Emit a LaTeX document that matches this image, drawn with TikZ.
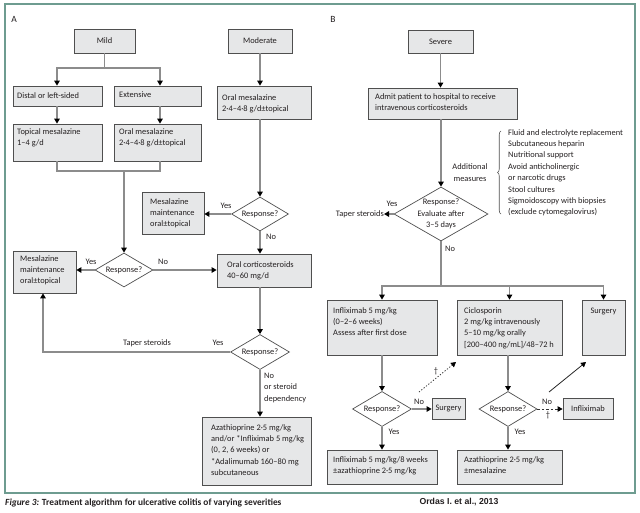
\documentclass[tikz,border=0pt]{standalone}
\usepackage{fontspec}
\setmainfont{Carlito}
\newfontfamily\arialfont{Liberation Sans}
\usetikzlibrary{arrows.meta,shapes.geometric,decorations.pathreplacing,calc}
\definecolor{boxfill}{HTML}{E6E7E8}
\definecolor{boxline}{HTML}{4F4F4F}
\definecolor{lncol}{HTML}{8C8C8C}
\definecolor{framecol}{HTML}{6E9C90}
\definecolor{txtcol}{HTML}{231F20}
\newcommand\fs{\fontsize{8.4}{11.4}\selectfont}
\newcommand\mybox[6]{\pgfmathsetmacro\bw{#4-#2}\pgfmathsetmacro\bh{#5-#3}%
  \pgfmathsetmacro\bcx{(#2+#4)/2}\pgfmathsetmacro\bcy{(#3+#5)/2}%
  \node[box, minimum width=\bw pt, minimum height=\bh pt] (#1) at (\bcx,\bcy) {#6};}
\tikzset{
  box/.style={draw=boxline, fill=boxfill, line width=0.8pt, inner sep=0pt, font=\fs, text=txtcol},
  txt/.style={inner sep=0pt, font=\fs, align=left, text=txtcol, anchor=north west},
  lbl/.style={inner sep=0pt, font=\fs, text=txtcol},
  dia/.style={diamond, draw=boxline, fill=white, line width=0.7pt, inner sep=0pt, shape aspect=1.7, font=\fs, text=txtcol},
  ln/.style={draw=lncol, line width=1.3pt},
  arr/.style={ln, -{Triangle[length=5pt,width=5.5pt,color=black]}},
}
\begin{document}
\begin{tikzpicture}[x=1pt,y=-1pt]
\useasboundingbox (0,0) rectangle (640,512);
\draw[framecol, line width=1.2pt] (5,4) rectangle (635,493);
\node[lbl, font=\fontsize{9.5}{10}\selectfont] (lA) at (14,19) {A};
\node[lbl, font=\fontsize{9.5}{10}\selectfont] (lB) at (333,19) {B};

% ---------- Panel A boxes
\mybox{mild}{74}{29}{135}{53}{Mild}
\mybox{moder}{228}{29}{292}{53}{Moderate}
\mybox{distal}{13}{86}{102}{106}{}
\mybox{ext}{114}{86}{201}{106}{}
\mybox{topical}{13}{124}{102}{161}{}
\mybox{oralA}{114}{124}{201}{161}{}
\mybox{oralM}{217}{86}{311}{119}{}
\mybox{mmM}{142}{192}{204}{234}{}
\mybox{mmL}{13}{251}{76}{293}{}
\mybox{cort}{217}{254}{311}{287}{}
\mybox{aza}{202}{417}{311}{485}{}

\node[txt] (distalt) at (17,92) {Distal or left-sided};
\node[txt] (extt) at (119,92) {Extensive};
\node[txt] (topicalt) at (17,128) {Topical mesalazine\\1–4 g/d};
\node[txt] (oralAt) at (119,128) {Oral mesalazine\\2·4–4·8 g/d±topical};
\node[txt] (oralMt) at (222,94) {Oral mesalazine\\2·4–4·8 g/d±topical};
\node[txt] (mmMt) at (150,198) {Mesalazine\\maintenance\\oral±topical};
\node[txt] (mmLt) at (20,255) {Mesalazine\\maintenance\\oral±topical};
\node[txt] (cortt) at (227,261) {Oral corticosteroids\\40–60 mg/d};
\node[txt] (azat) at (211,424) {Azathioprine 2·5 mg/kg\\and/or *Infliximab 5 mg/kg\\(0, 2, 6 weeks) or\\*Adalimumab 160–80 mg\\subcutaneous};

\node[dia, minimum width=58pt, minimum height=34pt] (dA1) at (124,270) {Response?};
\node[dia, minimum width=57pt, minimum height=34pt] (dA2) at (260,214) {Response?};
\node[dia, minimum width=59pt, minimum height=35pt] (dA3) at (260,352) {Response?};

\coordinate (cA1) at (57,0);
\coordinate (cA2) at (160,0);
\coordinate (cL) at (43,0);
\coordinate (j1) at (104.5,68);
\coordinate (j2) at (124,171);
\draw[ln] (mild.south) -- (j1);
\draw[arr] (j1) -| (cA1 |- distal.north);
\draw[arr] (j1) -| (cA2 |- ext.north);
\draw[arr] (cA1 |- distal.south) -- (cA1 |- topical.north);
\draw[arr] (cA2 |- ext.south) -- (cA2 |- oralA.north);
\draw[ln] (cA1 |- topical.south) |- (j2) -| (cA2 |- oralA.south);
\draw[arr] (j2) -- (dA1.north);
\draw[arr] (dA1.west) -- (dA1.west -| mmL.east);
\draw[arr] (dA1.east) -- (dA1.east -| cort.west);
\draw[arr] (moder.south) -- (moder.south |- oralM.north);
\draw[arr] (dA2.north |- oralM.south) -- (dA2.north);
\draw[arr] (dA2.west) -- (dA2.west -| mmM.east);
\draw[arr] (dA2.south) -- (dA2.south |- cort.north);
\draw[arr] (dA3.north |- cort.south) -- (dA3.north);
\draw[arr] (dA3.west) -| (cL |- mmL.south);
\draw[arr] (dA3.south) -- (dA3.south |- aza.north);

\node[lbl] (yA1) at (91,262) {Yes};
\node[lbl] (nA1) at (163,262) {No};
\node[lbl] (yA2) at (226,206) {Yes};
\node[lbl] (nA2) at (271,237) {No};
\node[lbl] (taperA) at (147,343) {Taper steroids};
\node[lbl] (yA3) at (218,343) {Yes};
\node[txt] (nA3) at (264,373) {No\\or steroid\\dependency};

% ---------- Panel B boxes
\mybox{severe}{408}{30}{473}{53}{Severe}
\mybox{admit}{368}{88}{517}{119}{}
\mybox{infl}{327}{300}{437}{355}{}
\mybox{cic}{457}{300}{562}{355}{}
\mybox{surgR}{582}{300}{625}{355}{}
\mybox{surgS}{432}{398}{465}{419}{Surgery}
\mybox{inflS}{563}{398}{613}{419}{Infliximab}
\mybox{inflM}{327}{450}{437}{484}{}
\mybox{azaB}{457}{450}{562}{484}{}

\node[txt] (admitt) at (375,93) {Admit patient to hospital to receive\\intravenous corticosteroids};
\node[txt] (inflt) at (333,307) {Infliximab 5 mg/kg\\(0–2–6 weeks)\\Assess after first dose};
\node[txt] (cict) at (464,307) {Ciclosporin\\2 mg/kg intravenously\\5–10 mg/kg orally\\{[}200–400 ng/mL{]}/48–72 h};
\node[txt, anchor=north] (surgRt) at (603.5,308) {Surgery};
\node[txt] (inflMt) at (333,456) {Infliximab 5 mg/kg/8 weeks\\±azathioprine 2·5 mg/kg};
\node[txt] (azaBt) at (464,456) {Azathioprine 2·5 mg/kg\\±mesalazine};

\node[txt] (meas) at (508,129) {Fluid and electrolyte replacement\\Subcutaneous heparin\\Nutritional support\\Avoid anticholinergic\\or narcotic drugs\\Stool cultures\\Sigmoidoscopy with biopsies\\(exclude cytomegalovirus)};
\draw[boxline, line width=0.6pt, decorate, decoration={brace, amplitude=3.5pt}] (501,214) -- (501,131);
\node[lbl, align=center] (addl) at (470,172.5) {Additional\\measures};

\node[dia, minimum width=94pt, minimum height=54pt] (dB) at (441,214) {};
\node[lbl, align=center] (dBt) at (441,214) {Response?\\Evaluate after\\3–5 days};
\node[lbl, anchor=east] (taperB) at (384,214) {Taper steroids};

\node[dia, minimum width=59pt, minimum height=35pt] (dB1) at (382,409) {Response?};
\node[dia, minimum width=58pt, minimum height=35pt] (dB2) at (508,409) {Response?};

\coordinate (j3) at (441,286);
\draw[arr] (severe.south) -- (severe.south |- admit.north);
\draw[arr] (dB.north |- admit.south) -- (dB.north);
\draw[arr] (dB.west) -- (taperB.east);
\draw[ln] (dB.south) -- (j3);
\draw[arr] (j3) -| (infl.north);
\draw[arr] (j3) -| (cic.north);
\draw[arr] (j3) -| (surgR.north);
\draw[arr] (dB1.north |- infl.south) -- (dB1.north);
\draw[arr] (dB1.east) -- (dB1.east -| surgS.west);
\draw[arr] (dB1.south) -- (dB1.south |- inflM.north);
\draw[arr] (dB2.north |- cic.south) -- (dB2.north);
\draw[arr, draw=black!80, line width=0.9pt, dash pattern=on 2.5pt off 2pt] (dB2.east) -- (dB2.east -| inflS.west);
\draw[arr] (dB2.south) -- (dB2.south |- azaB.north);
\coordinate (d1s) at (419,392);
\coordinate (d1e) at (456,362);
\coordinate (d2s) at (549,392);
\coordinate (d2e) at (586,362);
\draw[arr, draw=black!80, line width=0.8pt, dash pattern=on 1.2pt off 1.8pt] (d1s) -- (d1e);
\draw[arr, draw=black!85, line width=0.8pt] (d2s) -- (d2e);

\node[lbl] (yB) at (392,204) {Yes};
\node[lbl] (nB) at (450,249) {No};
\node[lbl] (nB1) at (419,402) {No};
\node[lbl] (dagB1) at (436,371) {†};
\node[lbl] (yB1) at (394,432) {Yes};
\node[lbl] (nB2) at (547,402) {No};
\node[lbl] (dagB2) at (548,415) {†};
\node[lbl] (yB2) at (520,432) {Yes};

\node[anchor=west, inner sep=0pt, text=txtcol, font=\fontsize{9.4}{11}\selectfont\bfseries] (cap) at (5,503) {\textit{Figure 3:} Treatment algorithm for ulcerative colitis of varying severities};
\node[inner sep=0pt, text=txtcol, font=\arialfont\fontsize{8.7}{10}\selectfont\bfseries] (ref) at (459,502) {Ordas I. et al., 2013};
\end{tikzpicture}
\end{document}
